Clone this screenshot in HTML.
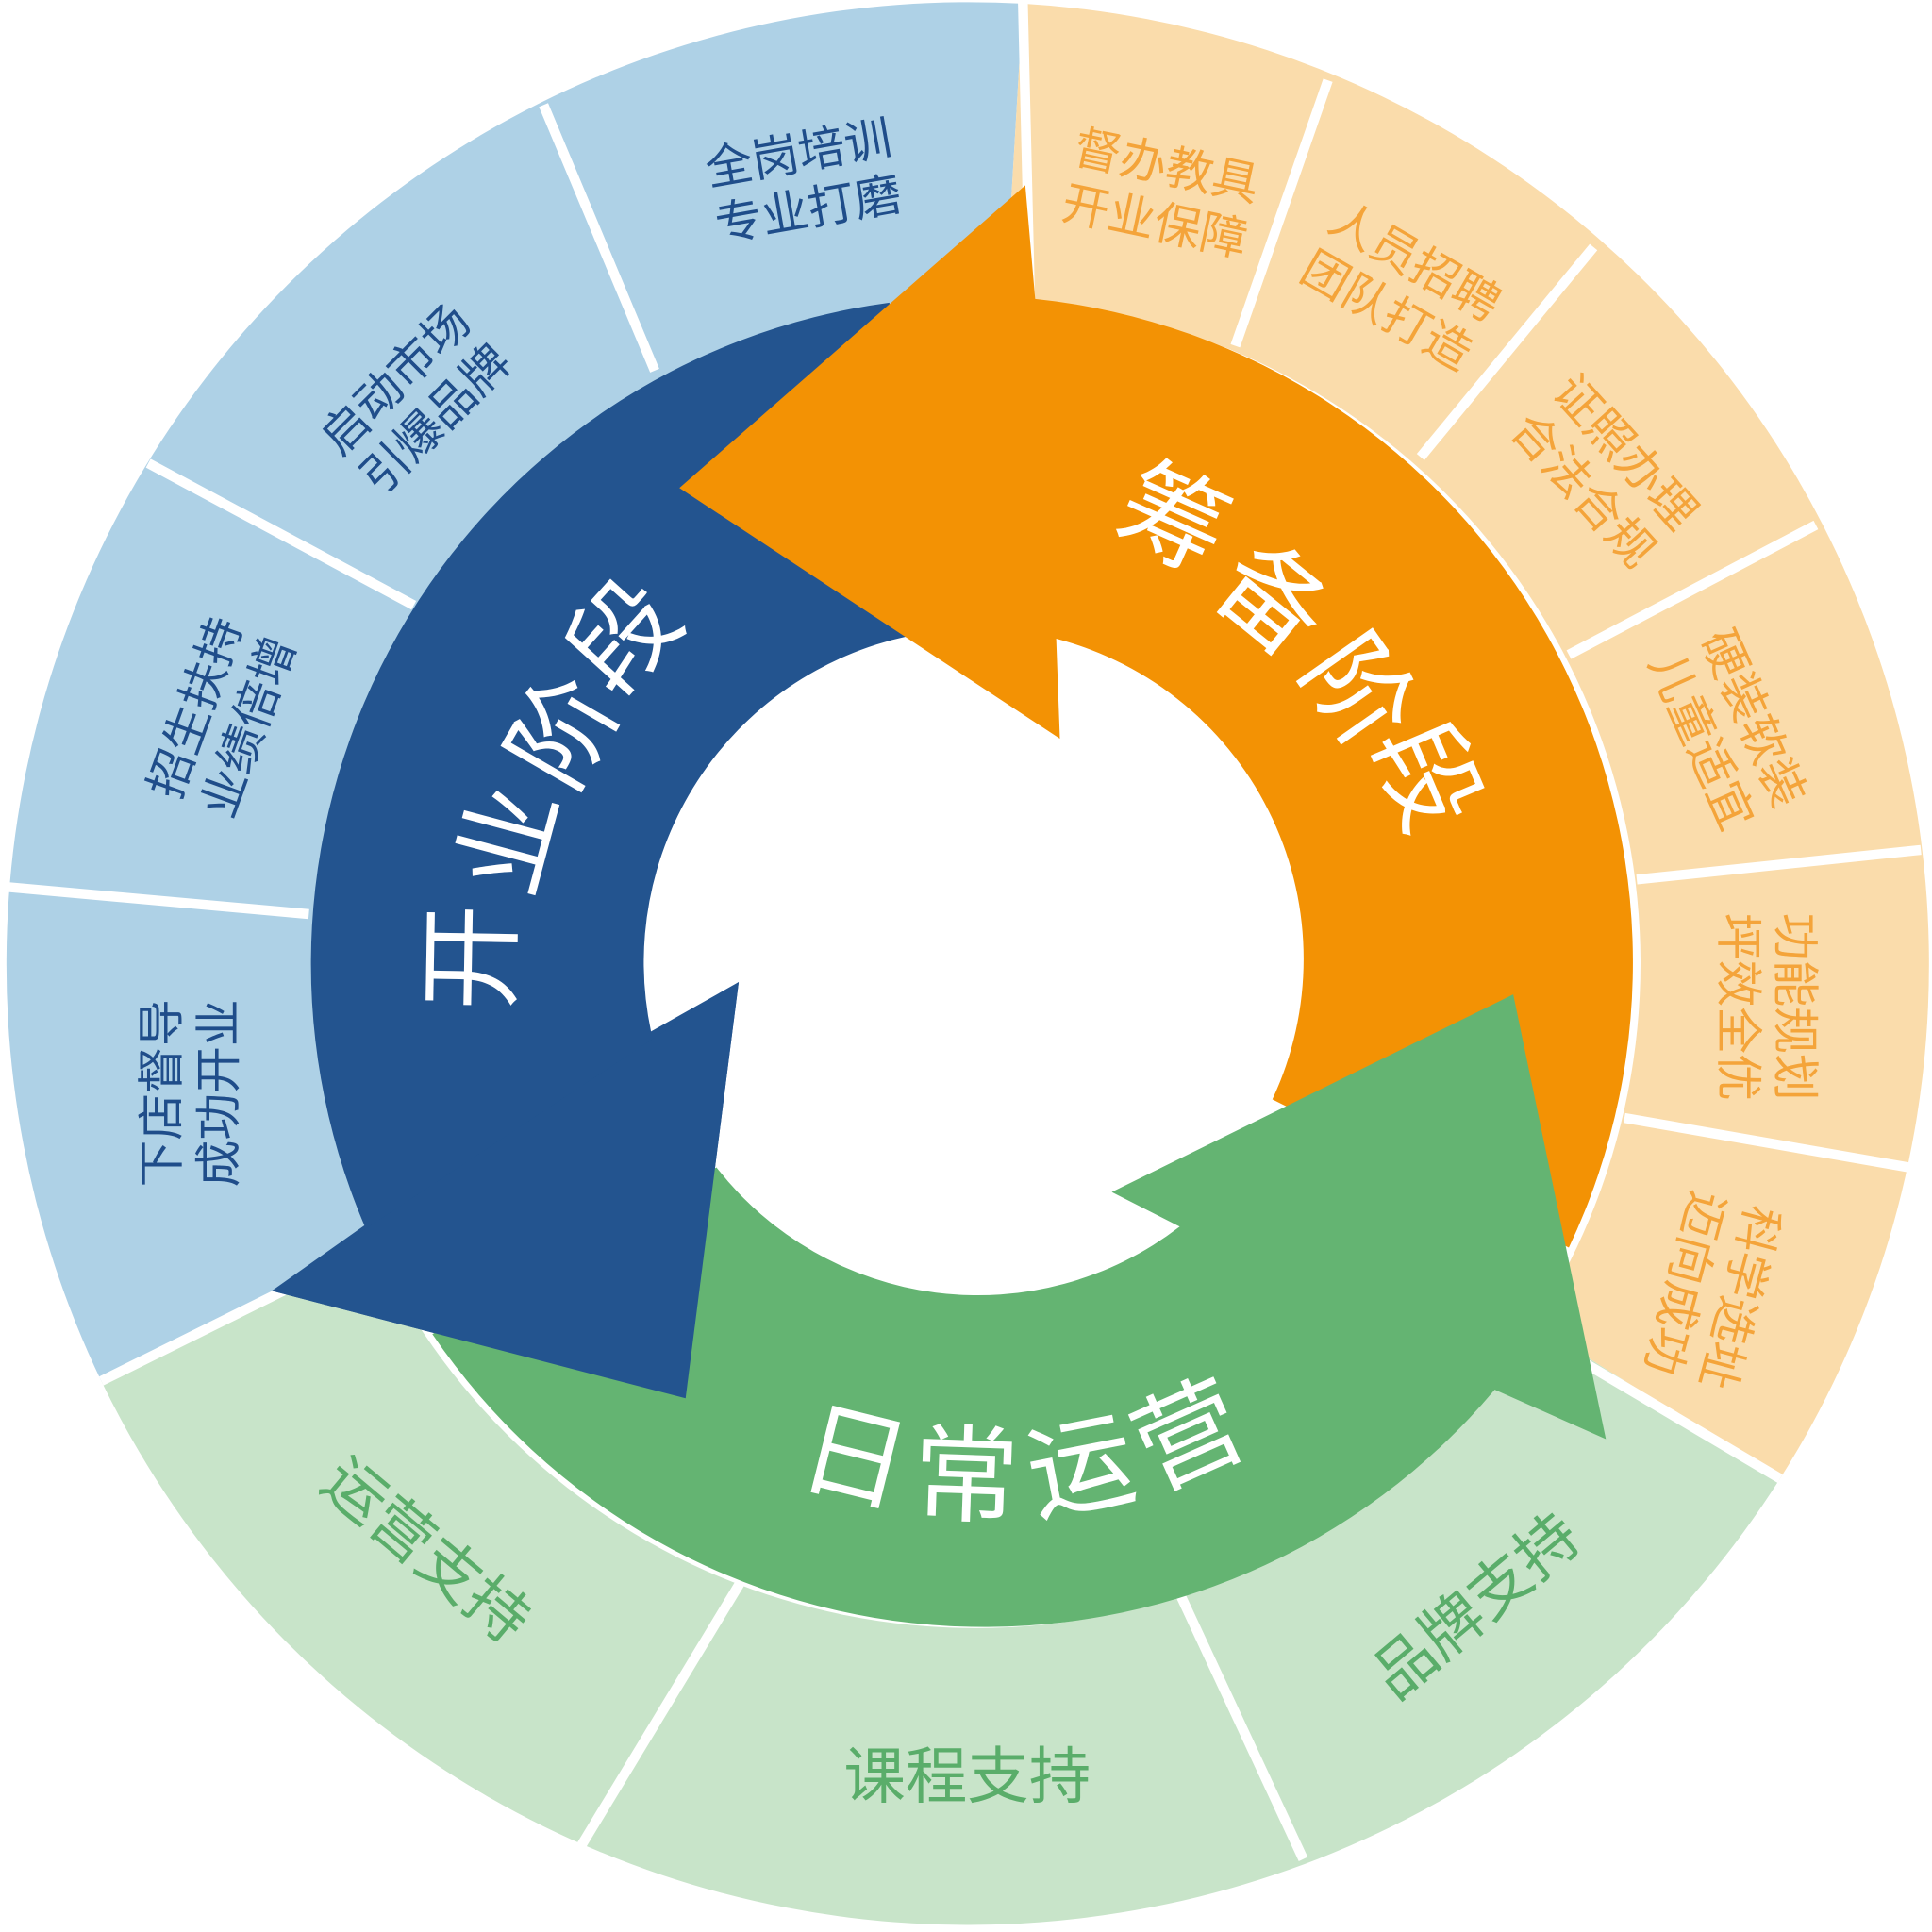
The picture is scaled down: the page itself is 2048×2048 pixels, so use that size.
<!DOCTYPE html>
<html><head><meta charset="utf-8"><style>
html,body{margin:0;padding:0;background:#fff;}
svg{display:block;}
text{font-family:"Liberation Sans","Noto Sans CJK SC",sans-serif;}
</style></head><body>
<svg width="2048" height="2048" viewBox="0 0 1564 1564" xmlns="http://www.w3.org/2000/svg">
<path d="M782,782 L1441,1197 A779,779 0 0,1 82,1118 Z" fill="#c8e4c9"/>
<path d="M782,782 L82,1118 A779,779 0 0,1 828,3 Z" fill="#aed1e6"/>
<path d="M782,782 L828,3 A779,779 0 0,1 1441,1197 Z" fill="#fadcab"/>
<g stroke="#fff" stroke-width="8">
<line x1="828" y1="0" x2="834" y2="250"/>
<line x1="82" y1="1118" x2="300" y2="1010"/>
<line x1="1441" y1="1197" x2="1260" y2="1090"/>
<line x1="440" y1="85" x2="530" y2="300"/>
<line x1="120" y1="375" x2="335" y2="490"/>
<line x1="5" y1="718" x2="250" y2="740"/>
<line x1="1075" y1="65" x2="1000" y2="280"/>
<line x1="1290" y1="200" x2="1150" y2="370"/>
<line x1="1470" y1="425" x2="1270" y2="530"/>
<line x1="1555" y1="688" x2="1325" y2="712"/>
<line x1="1545" y1="945" x2="1315" y2="905"/>
<line x1="1055" y1="1505" x2="955" y2="1290"/>
<line x1="470" y1="1495" x2="600" y2="1280"/>
</g>
<circle cx="790" cy="780" r="538" fill="#fff"/>
<path d="M555,1132 L220,1045 L295,992 A540,540 0 0,1 720,245 L735,515 A270,270 0 0,0 527,835 L598,795 Z" fill="#23548f"/>
<path d="M830,150 L550,395 L858,598 L855,517 A268,268 0 0,1 1030,890 L1270,1010 A540,540 0 0,0 838,242 Z" fill="#f39204"/>
<path d="M1225,805 L1300,1165 L1210,1125 A540,540 0 0,1 350,1080 L580,945 A268,268 0 0,0 955,993 L900,965 Z" fill="#64b472"/>
<path d="M555,1132 L220,1045 L598,795 Z" fill="#23548f"/>
<g fill="#fff" font-size="86" text-anchor="middle" dominant-baseline="central">
<text transform="translate(950,420) rotate(24)">筹</text>
<text transform="translate(1030,485) rotate(39)">备</text>
<text transform="translate(1100,560) rotate(55)">阶</text>
<text transform="translate(1155,628) rotate(67)">段</text>
<text transform="translate(382,775) rotate(-89)">开</text>
<text transform="translate(412,680) rotate(-75)">业</text>
<text transform="translate(457,592) rotate(-60)">阶</text>
<text transform="translate(505,515) rotate(-48)">段</text>
<text transform="translate(692,1180) rotate(14)">日</text>
<text transform="translate(782,1195) rotate(2)">常</text>
<text transform="translate(875,1188) rotate(-11)">运</text>
<text transform="translate(962,1162) rotate(-24)">营</text>
</g>
<g fill="#1f4d8a" font-size="38" text-anchor="middle">
<text transform="translate(650,145) rotate(-10)"><tspan x="0" y="-8">全岗培训</tspan><tspan x="0" y="38">专业打磨</tspan></text>
<text transform="translate(335,322) rotate(-45)"><tspan x="0" y="-8">启动市场</tspan><tspan x="0" y="38">引爆品牌</tspan></text>
<text transform="translate(178,580) rotate(-70)"><tspan x="0" y="-8">招生扶持</tspan><tspan x="0" y="38">业绩倍增</tspan></text>
<text transform="translate(152,885) rotate(-90)"><tspan x="0" y="-8">下店督导</tspan><tspan x="0" y="38">成功开业</tspan></text>
</g>
<g fill="#f4a43a" font-size="38" text-anchor="middle">
<text transform="translate(940,155) rotate(12)"><tspan x="0" y="-8">督办教具</tspan><tspan x="0" y="38">开业保障</tspan></text>
<text transform="translate(1135,230) rotate(30)"><tspan x="0" y="-8">人员招聘</tspan><tspan x="0" y="38">团队打造</tspan></text>
<text transform="translate(1300,380) rotate(48)"><tspan x="0" y="-8">证照办理</tspan><tspan x="0" y="38">合法合规</tspan></text>
<text transform="translate(1400,590) rotate(66)"><tspan x="0" y="-8">硬装软装</tspan><tspan x="0" y="38">儿童适宜</tspan></text>
<text transform="translate(1432,815) rotate(90)"><tspan x="0" y="-8">功能规划</tspan><tspan x="0" y="38">坪效全优</tspan></text>
<text transform="translate(1388,1045) rotate(105)"><tspan x="0" y="-8">科学选址</tspan><tspan x="0" y="38">迈向成功</tspan></text>
</g>
<g fill="#5aad6a" font-size="50" text-anchor="middle" dominant-baseline="central">
<text transform="translate(345,1255) rotate(40)">运营支持</text>
<text transform="translate(783,1438)">课程支持</text>
<text transform="translate(1195,1300) rotate(-40)">品牌支持</text>
</g>
</svg>
</body></html>
